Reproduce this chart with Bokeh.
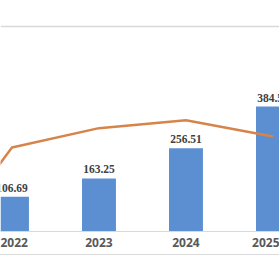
from bokeh.plotting import figure
from bokeh.models import Range1d, FixedTicker, LabelSet, ColumnDataSource, Span
from bokeh.embed import file_html
from bokeh.resources import INLINE

# data
bar_years = [2022, 2023, 2024, 2025]
bar_values = [106.69, 163.25, 256.51, 384.52]
bar_labels = ["106.69", "163.25", "256.51", "384.52"]
line_years = [2021, 2022, 2023, 2024, 2025]
line_values = [-17.0, 43.1, 53.0, 57.1, 48.7]

FONT = "Open Sans"
bar_src = ColumnDataSource(dict(x=bar_years, y=bar_values, label=bar_labels))
line_src = ColumnDataSource(dict(x=line_years, y=line_values))

p = figure(width=279, height=255, output_backend="svg", toolbar_location=None,
           x_range=Range1d(2021.868, 2025.075), y_range=Range1d(0, 711),
           y_axis_location=None, min_border_left=0, min_border_right=0,
           min_border_top=0, min_border_bottom=24)
p.outline_line_color = None
p.grid.visible = False
p.background_fill_color = "white"
p.border_fill_color = "white"
p.styles = {"border-bottom": "1px solid #DADADA"}

p.extra_y_ranges = {"y2": Range1d(0, 118.46)}

p.vbar(x="x", top="y", width=0.39, source=bar_src, fill_color="#5B8FD1", line_color=None)
p.line(x="x", y="y", source=line_src, y_range_name="y2", line_color="#D7844A", line_width=2.5)

labels = LabelSet(x="x", y="y", text="label", source=bar_src, text_align="center",
                  text_baseline="bottom", y_offset=5, text_font=FONT, text_font_style="bold",
                  text_font_size="11.5px", text_color="#404040")
p.add_layout(labels)

# chart-area top border line
p.add_layout(Span(location=631, dimension="width", line_color="#D9D9D9", line_width=1.5))

ax = p.xaxis[0]
ax.ticker = FixedTicker(ticks=bar_years)
ax.axis_line_color = "#D9D9D9"
ax.major_tick_line_color = None
ax.minor_tick_line_color = None
ax.major_tick_out = 0
ax.major_tick_in = 0
ax.major_label_standoff = 6
ax.major_label_text_font = FONT
ax.major_label_text_font_style = "bold"
ax.major_label_text_font_size = "12px"
ax.major_label_text_color = "#595959"

open("out.html", "w").write(file_html(p, INLINE))
